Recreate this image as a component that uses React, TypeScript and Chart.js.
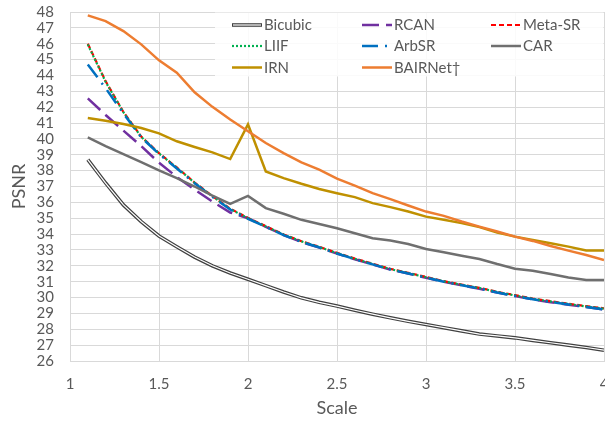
import React, { useEffect, useRef } from "react";
import { Chart, registerables } from "chart.js";
Chart.register(...registerables);

const scaleFactors = [1.1, 1.2, 1.3, 1.4, 1.5, 1.6, 1.7, 1.8, 1.9, 2.0, 2.1, 2.2, 2.3, 2.4, 2.5, 2.6, 2.7, 2.8, 2.9, 3.0, 3.1, 3.2, 3.3, 3.4, 3.5, 3.6, 3.7, 3.8, 3.9, 4.0];

const bicubic = [38.69, 37.22, 35.84, 34.79, 33.88, 33.2, 32.55, 32.0, 31.55, 31.15, 30.75, 30.35, 29.98, 29.7, 29.46, 29.2, 28.95, 28.72, 28.5, 28.3, 28.1, 27.9, 27.7, 27.58, 27.46, 27.3, 27.15, 27.0, 26.85, 26.68];
const rcan = [42.55, 41.51, 40.52, 39.55, 38.5, 37.6, 36.8, 36.05, 35.36, 35.0, 34.46, 33.94, 33.5, 33.15, 32.77, 32.41, 32.08, 31.76, 31.51, 31.25, 30.99, 30.77, 30.56, 30.31, 30.09, 29.88, 29.71, 29.55, 29.4, 29.24];
const metaSR = [46.0, 43.64, 41.7, 40.15, 39.1, 38.2, 37.25, 36.4, 35.6, 35.02, 34.5, 33.98, 33.55, 33.2, 32.82, 32.46, 32.13, 31.81, 31.56, 31.3, 31.03, 30.82, 30.61, 30.36, 30.15, 29.94, 29.77, 29.61, 29.46, 29.32];
const liif = [45.95, 43.6, 41.68, 40.13, 39.08, 38.18, 37.24, 36.38, 35.58, 35.0, 34.48, 33.97, 33.54, 33.18, 32.8, 32.44, 32.11, 31.79, 31.54, 31.28, 31.02, 30.8, 30.6, 30.35, 30.13, 29.92, 29.75, 29.59, 29.44, 29.3];
const arbSR = [44.69, 43.2, 41.6, 40.1, 39.05, 38.14, 37.2, 36.35, 35.55, 34.96, 34.46, 33.94, 33.51, 33.16, 32.78, 32.42, 32.09, 31.77, 31.52, 31.26, 31.0, 30.78, 30.57, 30.32, 30.1, 29.89, 29.72, 29.56, 29.41, 29.25];
const car = [40.1, 39.55, 39.04, 38.53, 38.01, 37.53, 37.0, 36.43, 35.9, 36.41, 35.64, 35.28, 34.9, 34.64, 34.37, 34.05, 33.74, 33.59, 33.38, 33.06, 32.85, 32.64, 32.43, 32.11, 31.82, 31.69, 31.48, 31.27, 31.1, 31.1];
const irn = [41.32, 41.15, 40.94, 40.69, 40.35, 39.85, 39.49, 39.15, 38.73, 40.92, 37.95, 37.53, 37.17, 36.84, 36.58, 36.33, 35.95, 35.7, 35.42, 35.1, 34.9, 34.69, 34.44, 34.1, 33.84, 33.63, 33.42, 33.21, 32.96, 32.96];
const bairnet = [47.79, 47.43, 46.8, 45.96, 44.95, 44.17, 42.94, 42.02, 41.22, 40.48, 39.74, 39.11, 38.52, 38.06, 37.49, 37.05, 36.58, 36.2, 35.8, 35.42, 35.15, 34.79, 34.47, 34.16, 33.84, 33.57, 33.25, 32.96, 32.68, 32.37];

const seriesNames = ["Bicubic", "RCAN", "Meta-SR", "LIIF", "ArbSR", "CAR", "IRN", "BAIRNet†"];
const xTickLabels = ["1", "1.5", "2", "2.5", "3", "3.5", "4"];

const FONT = "Lato, 'Open Sans', sans-serif";
const TEXT = "#595959";
const GRID = "#d9d9d9";

type Style = { color: string; width: number; dash: number[]; double?: boolean };
const styles: Style[] = [
  { color: "#404040", width: 3.6, dash: [], double: true },
  { color: "#7030A0", width: 2.5, dash: [17, 7] },
  { color: "#FF0000", width: 2.2, dash: [5, 3] },
  { color: "#00B050", width: 2.2, dash: [2, 2] },
  { color: "#0070C0", width: 2.5, dash: [16, 7, 2, 7] },
  { color: "#6F6F6F", width: 2.5, dash: [] },
  { color: "#BF9000", width: 2.5, dash: [] },
  { color: "#ED7D31", width: 2.5, dash: [] },
];

export default function App() {
  const ref = useRef<HTMLCanvasElement>(null);
  useEffect(() => {
    document.body.style.margin = "0";
    const canvas = ref.current!;
    const pts = (v: number[]) => scaleFactors.map((x, i) => ({ x, y: v[i] }));
    const values = [bicubic, rcan, metaSR, liif, arbSR, car, irn, bairnet];

    const datasets: any[] = [];
    values.forEach((v, i) => {
      const s = styles[i];
      datasets.push({
        label: seriesNames[i],
        data: pts(v),
        borderColor: s.color,
        borderWidth: s.width,
        borderDash: s.dash,
        borderCapStyle: "butt",
        pointRadius: 0,
        tension: 0,
        fill: false,
        order: 10 - i,
      });
      if (s.double) {
        datasets.push({
          label: seriesNames[i] + "-inner",
          data: pts(v),
          borderColor: "#ffffff",
          borderWidth: 1.2,
          pointRadius: 0,
          tension: 0,
          fill: false,
          order: 9.5 - i,
        });
      }
    });

    const legendPlugin = {
      id: "inlegend",
      afterDraw(chart: any) {
        const ctx = chart.ctx as CanvasRenderingContext2D;
        const area = chart.chartArea;
        ctx.save();
        ctx.fillStyle = "rgba(255,255,255,0.85)";
        ctx.fillRect(215, area.top + 0.5, area.right - 215 - 0.5, 64);
        const cols = [232, 362, 491];
        const rows = [25, 46, 67.5];
        ctx.font = `15px ${FONT}`;
        ctx.textBaseline = "middle";
        seriesNames.forEach((name, i) => {
          const x = cols[i % 3];
          const y = rows[Math.floor(i / 3)];
          const s = styles[i];
          ctx.beginPath();
          ctx.setLineDash(s.dash);
          ctx.lineCap = "butt";
          ctx.strokeStyle = s.color;
          ctx.lineWidth = s.width;
          ctx.moveTo(x, y);
          ctx.lineTo(x + 30, y);
          ctx.stroke();
          if (s.double) {
            ctx.beginPath();
            ctx.strokeStyle = "#ffffff";
            ctx.lineWidth = 1.2;
            ctx.moveTo(x + 1, y);
            ctx.lineTo(x + 29, y);
            ctx.stroke();
          }
          ctx.setLineDash([]);
          ctx.fillStyle = TEXT;
          ctx.fillText(name, x + 32, y + 0.5);
        });
        ctx.restore();
      },
    };

    const chart = new Chart(canvas, {
      type: "line",
      data: { datasets },
      plugins: [legendPlugin],
      options: {
        animation: false,
        responsive: false,
        layout: { padding: { top: 12, right: 1, left: 0, bottom: 0 } },
        plugins: { legend: { display: false }, tooltip: { enabled: false } },
        scales: {
          x: {
            type: "linear",
            min: 1,
            max: 4,
            ticks: {
              stepSize: 0.5,
              autoSkip: false,
              color: TEXT,
              font: { family: FONT, size: 15 },
              padding: 14,
              maxRotation: 0,
              callback: (_v: any, i: number) => xTickLabels[i],
            },
            grid: { color: GRID, lineWidth: 1, drawTicks: false },
            border: { color: GRID },
            title: { display: true, text: "Scale", color: TEXT, font: { family: FONT, size: 18 }, padding: { top: 0, bottom: 2 } },
            afterFit: (s: any) => {
              s.height = 60;
              s.paddingLeft = 0;
              s.paddingRight = 0;
            },
          },
          y: {
            min: 26,
            max: 48,
            ticks: { stepSize: 1, autoSkip: false, color: TEXT, font: { family: FONT, size: 15 }, padding: 16 },
            grid: { color: GRID, lineWidth: 1, drawTicks: false },
            border: { color: GRID },
            title: { display: true, text: "PSNR", color: TEXT, font: { family: FONT, size: 18 }, padding: { top: 8, bottom: 0 } },
            afterFit: (s: any) => {
              s.width = 70;
              s.paddingTop = 0;
              s.paddingBottom = 0;
            },
          },
        },
      },
    });
    return () => chart.destroy();
  }, []);
  return (
    <div style={{ width: 605, height: 421 }}>
      <canvas ref={ref} width={605} height={421} style={{ display: "block" }} />
    </div>
  );
}
